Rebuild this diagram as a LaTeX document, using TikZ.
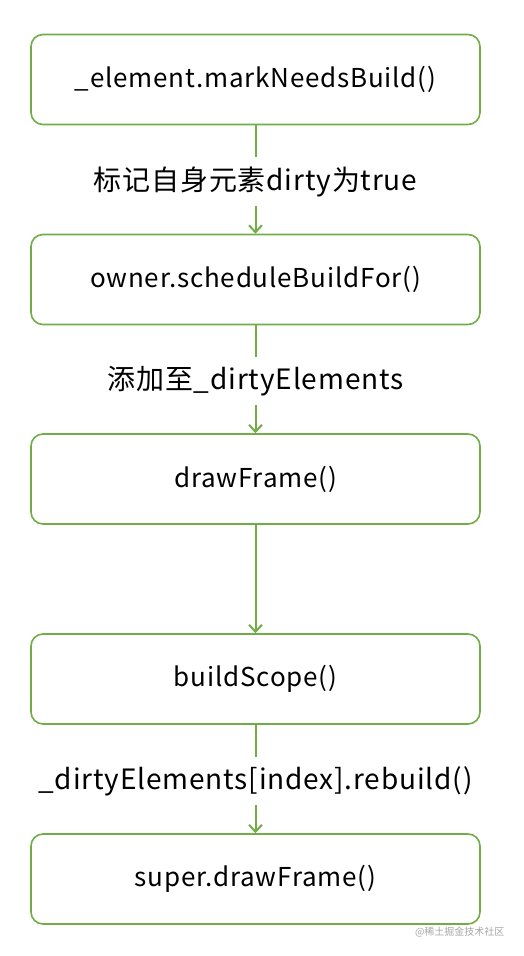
\documentclass[tikz,border=0pt]{standalone}
\usepackage{fontspec}
\setmainfont{Noto Sans CJK SC}
\newfontfamily\cjk{Noto Sans CJK SC}
\newfontfamily\cjkwide[LetterSpace=3]{Noto Sans CJK SC}
\usetikzlibrary{arrows.meta}
\definecolor{grn}{RGB}{112,173,71}
\tikzset{
  flowbox/.style={draw=grn, line width=1.6pt, rounded corners=12pt, minimum width=449pt, minimum height=90pt, inner sep=0pt, font=\cjkwide\fontsize{26}{30}\selectfont, text=black},
  flowarrow/.style={draw=grn, line width=2pt, -{Straight Barb[length=7pt,width=13pt,line width=2pt]}},
  flowlabel/.style={fill=white, inner xsep=2pt, inner ysep=9pt, yshift=-2pt, font=\cjkwide\fontsize{28}{32}\selectfont, text=black}
}
\begin{document}
\begin{tikzpicture}[x=1pt,y=1pt]
\useasboundingbox (0,0) rectangle (524,-956);
\node[flowbox] (b1) at (255.5,-79.5) {\_element.markNeedsBuild()};
\node[flowbox] (b2) at (255.5,-279.5) {owner.scheduleBuildFor()};
\node[flowbox] (b3) at (255.5,-479) {drawFrame()};
\node[flowbox] (b4) at (255.5,-679) {buildScope()};
\node[flowbox] (b5) at (255.5,-879) {super.drawFrame()};
\draw[flowarrow] (b1.south) -- (b2.north) node[midway, flowlabel] (l1) {标记自身元素dirty为true};
\draw[flowarrow] (b2.south) -- (b3.north) node[midway, flowlabel] (l2) {添加至\_dirtyElements};
\draw[flowarrow] (b3.south) -- (b4.north);
\draw[flowarrow] (b4.south) -- (b5.north) node[midway, flowlabel] (l4) {\_dirtyElements[index].rebuild()};
\node[anchor=east, font=\cjk\fontsize{10}{12}\selectfont, text=black!35] (wm) at (508,-932) {@稀土掘金技术社区};
\end{tikzpicture}
\end{document}
